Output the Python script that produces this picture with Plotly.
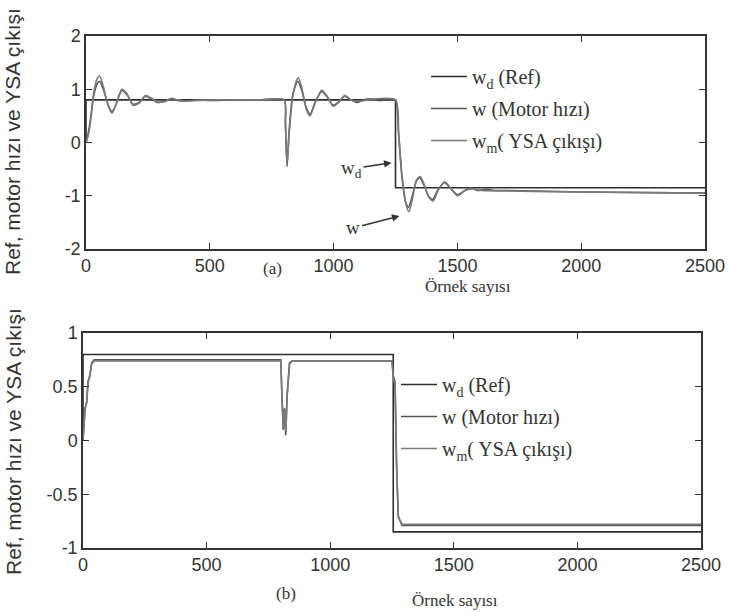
import plotly.graph_objects as go

# ---------------- data ----------------
# (a) top panel
a_ref_x = [0, 0, 1250, 1250, 2500]
a_ref_y = [0, 0.8, 0.8, -0.85, -0.85]

a_w_x = [0, 10, 20, 30, 45, 55, 70, 90, 105, 120, 145, 165, 190, 215, 240, 265, 290, 320, 345, 370,
         400, 450, 500, 600, 700, 800, 805, 812, 820, 835, 855, 870, 890, 905, 925, 952, 975, 998,
         1020, 1045, 1070, 1095, 1120, 1150, 1180, 1220, 1250, 1262, 1275, 1290, 1302, 1318, 1335,
         1348, 1365, 1385, 1400, 1420, 1448, 1470, 1500, 1525, 1550, 1580, 1620, 1650, 1700, 2000, 2500]
a_w_y = [0, 0.2, 0.5, 0.85, 1.1, 1.15, 1.0, 0.7, 0.58, 0.7, 0.98, 0.9, 0.72, 0.75, 0.87, 0.82, 0.75,
         0.78, 0.82, 0.79, 0.78, 0.8, 0.79, 0.8, 0.8, 0.8, 0.4, -0.45, 0.2, 0.9, 1.15, 1.0, 0.65, 0.53,
         0.75, 0.96, 0.85, 0.7, 0.76, 0.87, 0.8, 0.75, 0.8, 0.82, 0.79, 0.8, 0.8, 0.2, -0.6, -1.1,
         -1.22, -1.0, -0.72, -0.66, -0.8, -1.02, -1.07, -0.9, -0.75, -0.85, -0.98, -0.92, -0.85, -0.9,
         -0.88, -0.9, -0.9, -0.93, -0.95]

a_wm_x = [0, 10, 20, 30, 45, 55, 70, 90, 105, 120, 145, 165, 190, 215, 240, 265, 290, 320, 345, 370,
          400, 500, 700, 800, 806, 812, 822, 838, 857, 872, 890, 905, 925, 952, 975, 998, 1020, 1045,
          1070, 1100, 1150, 1250, 1263, 1277, 1292, 1304, 1320, 1335, 1350, 1365, 1385, 1402, 1420,
          1448, 1470, 1500, 1530, 1560, 1600, 1700, 2000, 2500]
a_wm_y = [0, 0.15, 0.45, 0.9, 1.2, 1.25, 1.05, 0.68, 0.55, 0.7, 1.0, 0.92, 0.7, 0.74, 0.88, 0.83, 0.76,
          0.77, 0.83, 0.8, 0.78, 0.8, 0.8, 0.8, 0.3, -0.4, 0.25, 0.95, 1.22, 1.02, 0.62, 0.5, 0.74, 0.98,
          0.86, 0.68, 0.75, 0.88, 0.8, 0.77, 0.81, 0.8, 0.15, -0.65, -1.15, -1.3, -1.02, -0.7, -0.64,
          -0.78, -1.03, -1.1, -0.92, -0.74, -0.84, -1.0, -0.9, -0.87, -0.9, -0.91, -0.93, -0.95]

# (b) bottom panel
b_ref_x = [0, 0, 1255, 1255, 2500]
b_ref_y = [0, 0.8, 0.8, -0.85, -0.85]

b_w_x = [0, 8, 15, 20, 28, 35, 45, 800, 805, 810, 815, 820, 825, 835, 845, 1250, 1255, 1262, 1268,
         1275, 1290, 2500]
b_w_y = [0, 0.3, 0.35, 0.55, 0.6, 0.72, 0.75, 0.75, 0.4, 0.1, 0.3, 0.05, 0.4, 0.72, 0.74, 0.74, 0.6,
         0.55, -0.2, -0.7, -0.79, -0.79]

b_wm_x = [0, 8, 15, 20, 28, 35, 45, 800, 806, 811, 816, 821, 826, 836, 846, 1250, 1256, 1263, 1269,
          1276, 1292, 2500]
b_wm_y = [0, 0.28, 0.36, 0.53, 0.62, 0.71, 0.74, 0.74, 0.35, 0.12, 0.28, 0.08, 0.42, 0.71, 0.74, 0.74,
          0.58, 0.5, -0.25, -0.72, -0.78, -0.78]

# tick labels
x_ticks = [0, 500, 1000, 1500, 2000, 2500]
x_ticktext = ["0", "500", "1000", "1500", "2000", "2500"]
a_y_ticks = [-2, -1, 0, 1, 2]
a_y_ticktext = ["-2", "-1", "0", "1", "2"]
b_y_ticks = [-1, -0.5, 0, 0.5, 1]
b_y_ticktext = ["-1", "-0.5", "0", "0.5", "1"]

names = ["w<sub>d</sub> (Ref)", "w (Motor hızı)", "w<sub>m</sub>( YSA çıkışı)"]
colors = ["#2e2e2e", "#555555", "#7a7a7a"]

# ---------------- figure ----------------
fig = go.Figure()
W, H = 729, 612

top_series = [(a_ref_x, a_ref_y, "linear"), (a_w_x, a_w_y, "spline"), (a_wm_x, a_wm_y, "spline")]
bot_series = [(b_ref_x, b_ref_y, "linear"), (b_w_x, b_w_y, "linear"), (b_wm_x, b_wm_y, "linear")]

for i, (xs, ys, shp) in enumerate(top_series):
    fig.add_trace(go.Scatter(x=xs, y=ys, mode="lines", name=names[i],
                             line=dict(color=colors[i], width=1.6, shape=shp, smoothing=0.7),
                             xaxis="x", yaxis="y", legend="legend",
                             legendgroup="a%d" % i))
for i, (xs, ys, shp) in enumerate(bot_series):
    fig.add_trace(go.Scatter(x=xs, y=ys, mode="lines", name=names[i],
                             line=dict(color=colors[i], width=1.6, shape=shp),
                             xaxis="x2", yaxis="y2", legend="legend2",
                             legendgroup="b%d" % i))

tickfont = dict(family="Liberation Sans, Arial", size=18, color="#333")
axcommon = dict(showgrid=False, zeroline=False, showline=True, linecolor="#333", linewidth=1.5,
                mirror="ticks", ticks="inside", ticklen=6, tickcolor="#333", tickwidth=1.3,
                tickfont=tickfont, automargin=False)

def px(xpix):
    return xpix / W

def py(ypix):
    return (H - ypix) / H

legfont = dict(family="Liberation Serif, Times New Roman", size=20, color="#333")

fig.update_layout(
    template="none",
    width=W, height=H,
    margin=dict(l=0, r=0, t=0, b=0, pad=0, autoexpand=False),
    paper_bgcolor="white", plot_bgcolor="white",
    xaxis=dict(domain=[px(86), px(705)], range=[0, 2500], tickvals=x_ticks, ticktext=x_ticktext,
               anchor="y", **axcommon),
    yaxis=dict(domain=[py(249), py(36)], range=[-2, 2], tickvals=a_y_ticks, ticktext=a_y_ticktext,
               anchor="x", **axcommon),
    xaxis2=dict(domain=[px(83), px(701)], range=[0, 2500], tickvals=x_ticks, ticktext=x_ticktext,
                anchor="y2", **axcommon),
    yaxis2=dict(domain=[py(548), py(333)], range=[-1, 1], tickvals=b_y_ticks, ticktext=b_y_ticktext,
                anchor="x2", **axcommon),
    legend=dict(x=px(426), y=py(57), xanchor="left", yanchor="top", bgcolor="rgba(0,0,0,0)",
                borderwidth=0, font=legfont, traceorder="grouped", tracegroupgap=3, itemwidth=36),
    legend2=dict(x=px(396), y=py(365), xanchor="left", yanchor="top", bgcolor="rgba(0,0,0,0)",
                 borderwidth=0, font=legfont, traceorder="grouped", tracegroupgap=3, itemwidth=36),
    showlegend=True,
)

serif = dict(family="Liberation Serif, Times New Roman", size=17, color="#333")
sans = dict(family="Liberation Sans, Arial", size=21, color="#333")

ann = [
    # y-axis titles
    dict(x=px(13), y=py(142), xref="paper", yref="paper", text="Ref, motor hızı ve YSA çıkışı",
         textangle=-90, showarrow=False, font=sans, xanchor="center", yanchor="middle"),
    dict(x=px(13), y=py(442), xref="paper", yref="paper", text="Ref, motor hızı ve YSA çıkışı",
         textangle=-90, showarrow=False, font=sans, xanchor="center", yanchor="middle"),
    # panel labels / x titles
    dict(x=px(272), y=py(268), xref="paper", yref="paper", text="(a)", showarrow=False, font=serif,
         xanchor="center", yanchor="middle"),
    dict(x=px(468), y=py(286), xref="paper", yref="paper", text="Örnek sayısı", showarrow=False,
         font=serif, xanchor="center", yanchor="middle"),
    dict(x=px(286), y=py(593), xref="paper", yref="paper", text="(b)", showarrow=False, font=serif,
         xanchor="center", yanchor="middle"),
    dict(x=px(455), y=py(600), xref="paper", yref="paper", text="Örnek sayısı", showarrow=False,
         font=serif, xanchor="center", yanchor="middle"),
    # arrows with labels in panel (a)
    dict(x=1234, y=-0.38, xref="x", yref="y", text="w<sub>d</sub>", showarrow=True,
         ax=-40, ay=6, arrowhead=2, arrowsize=1, arrowwidth=1.5, arrowcolor="#333",
         font=dict(family="Liberation Serif, Times New Roman", size=19, color="#333")),
    dict(x=1266, y=-1.38, xref="x", yref="y", text="w", showarrow=True,
         ax=-46, ay=12, arrowhead=2, arrowsize=1, arrowwidth=1.5, arrowcolor="#333",
         font=dict(family="Liberation Serif, Times New Roman", size=19, color="#333")),
]
fig.update_layout(annotations=ann)

fig.write_html("out.html")
